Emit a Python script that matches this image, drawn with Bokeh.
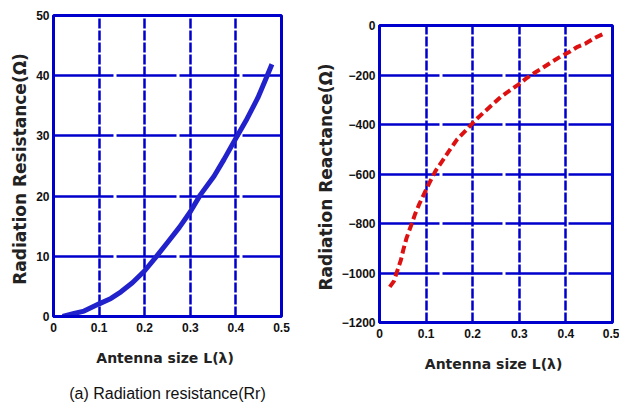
from bokeh.plotting import figure
from bokeh.layouts import row, column
from bokeh.models import FixedTicker, Spacer, LinearAxis
from bokeh.embed import file_html
from bokeh.resources import INLINE

# Data
L_res = [0.020, 0.045, 0.067, 0.100, 0.126, 0.148, 0.173, 0.200, 0.225, 0.250, 0.276, 0.300,
         0.322, 0.352, 0.374, 0.400, 0.422, 0.448, 0.467, 0.479]
R_res = [0.0, 0.5, 0.9, 2.1, 3.0, 4.1, 5.6, 7.6, 9.9, 12.3, 14.8, 17.4,
         20.2, 23.3, 26.1, 29.6, 32.5, 36.3, 39.7, 41.9]

L_rea = [0.022, 0.031, 0.038, 0.046, 0.051, 0.058, 0.067, 0.076, 0.085, 0.095, 0.106,
         0.120, 0.135, 0.151, 0.167, 0.187, 0.205, 0.222, 0.242, 0.260, 0.280, 0.298,
         0.316, 0.333, 0.350, 0.370, 0.388, 0.408, 0.425, 0.443, 0.461, 0.479]
X_rea = [-1056, -1033, -992, -947, -907, -859, -812, -764, -723, -683, -640,
         -588, -547, -502, -459, -421, -384, -354, -320, -289, -262, -239,
         -212, -191, -171, -147, -126, -106, -86, -72, -51, -35]

x_ticks = [0, 0.1, 0.2, 0.3, 0.4, 0.5]
x_tick_labels = ["0", "0.1", "0.2", "0.3", "0.4", "0.5"]
y_ticks_res = [0, 10, 20, 30, 40, 50]
y_ticks_rea = [-1200, -1000, -800, -600, -400, -200, 0]
y_tick_labels_rea = ["\u22121200", "\u22121000", "\u2212800", "\u2212600", "\u2212400", "\u2212200", "0"]
caption = "(a) Radiation resistance(Rr)"

BLUE = "#0000cc"
FONT = "DejaVu Sans"


def style(p, yticks, ylabels=None):
    p.xaxis.ticker = FixedTicker(ticks=x_ticks)
    p.xaxis.major_label_overrides = {t: s for t, s in zip(x_ticks, x_tick_labels)}
    p.yaxis.ticker = FixedTicker(ticks=yticks)
    if ylabels:
        p.yaxis.major_label_overrides = {t: s for t, s in zip(yticks, ylabels)}
    for ax in (p.xaxis, p.yaxis):
        ax.axis_line_color = BLUE
        ax.axis_line_width = 3
        ax.major_tick_line_color = None
        ax.minor_tick_line_color = None
        ax.major_tick_out = 0
        ax.major_tick_in = 0
        ax.minor_tick_out = 0
        ax.major_label_text_font = "Liberation Sans"
        ax.major_label_text_font_style = "bold"
        ax.major_label_text_font_size = "12px"
        ax.major_label_text_color = "#111111"
        ax.axis_label_text_font = FONT
        ax.axis_label_text_font_style = "bold"
        ax.axis_label_text_color = "#222222"
    p.xaxis.major_label_standoff = 6
    p.yaxis.major_label_standoff = 4
    p.xaxis.axis_label_standoff = 15
    p.yaxis.axis_label_standoff = 3
    p.xaxis.axis_label_text_font_size = "14px"
    p.yaxis.axis_label_text_font_size = "17px"
    p.outline_line_color = BLUE
    p.outline_line_width = 3
    p.outline_line_alpha = 1
    p.ygrid.ticker = FixedTicker(ticks=yticks)
    p.xgrid.ticker = FixedTicker(ticks=x_ticks)
    p.ygrid.grid_line_color = BLUE
    p.ygrid.grid_line_width = 2.5
    p.ygrid.grid_line_dash = "60 3"
    p.xgrid.grid_line_color = BLUE
    p.xgrid.grid_line_width = 2.5
    p.xgrid.grid_line_dash = "10 2"
    p.background_fill_color = "white"
    p.border_fill_color = "white"


p1 = figure(width=310, height=406, x_range=(0, 0.5), y_range=(0, 50),
            output_backend="svg", toolbar_location=None,
            min_border_left=53, min_border_right=29, min_border_top=15, min_border_bottom=90)
style(p1, y_ticks_res)
p1.xaxis.axis_label = "Antenna  size L(\u03bb)"
p1.yaxis.axis_label = "Radiation  Resistance(\u03a9)"
p1.line(L_res, R_res, line_color="#2222cc", line_width=5)

cap_axis = LinearAxis(ticker=FixedTicker(ticks=[]), axis_label=caption,
                      axis_line_color=None, major_tick_line_color=None,
                      minor_tick_line_color=None, major_tick_out=0, major_tick_in=0,
                      minor_tick_out=0, major_label_standoff=0,
                      axis_label_standoff=16, axis_label_text_font="Liberation Sans",
                      axis_label_text_font_size="16px", axis_label_text_font_style="normal",
                      axis_label_text_color="#111111")
p1.add_layout(cap_axis, "below")

p2 = figure(width=309, height=396, x_range=(0, 0.5), y_range=(-1200, 0),
            output_backend="svg", toolbar_location=None,
            min_border_left=69, min_border_right=7, min_border_top=15, min_border_bottom=84)
style(p2, y_ticks_rea, y_tick_labels_rea)
p2.xaxis.axis_label = "Antenna  size L(\u03bb)"
p2.yaxis.axis_label = "Radiation  Reactance(\u03a9)"
p2.line(L_rea, X_rea, line_color="#dd1111", line_width=4, line_dash="8 4")

layout = row(p1, column(Spacer(width=309, height=10), p2, spacing=0), spacing=0)
open("out.html", "w").write(file_html(layout, INLINE))
